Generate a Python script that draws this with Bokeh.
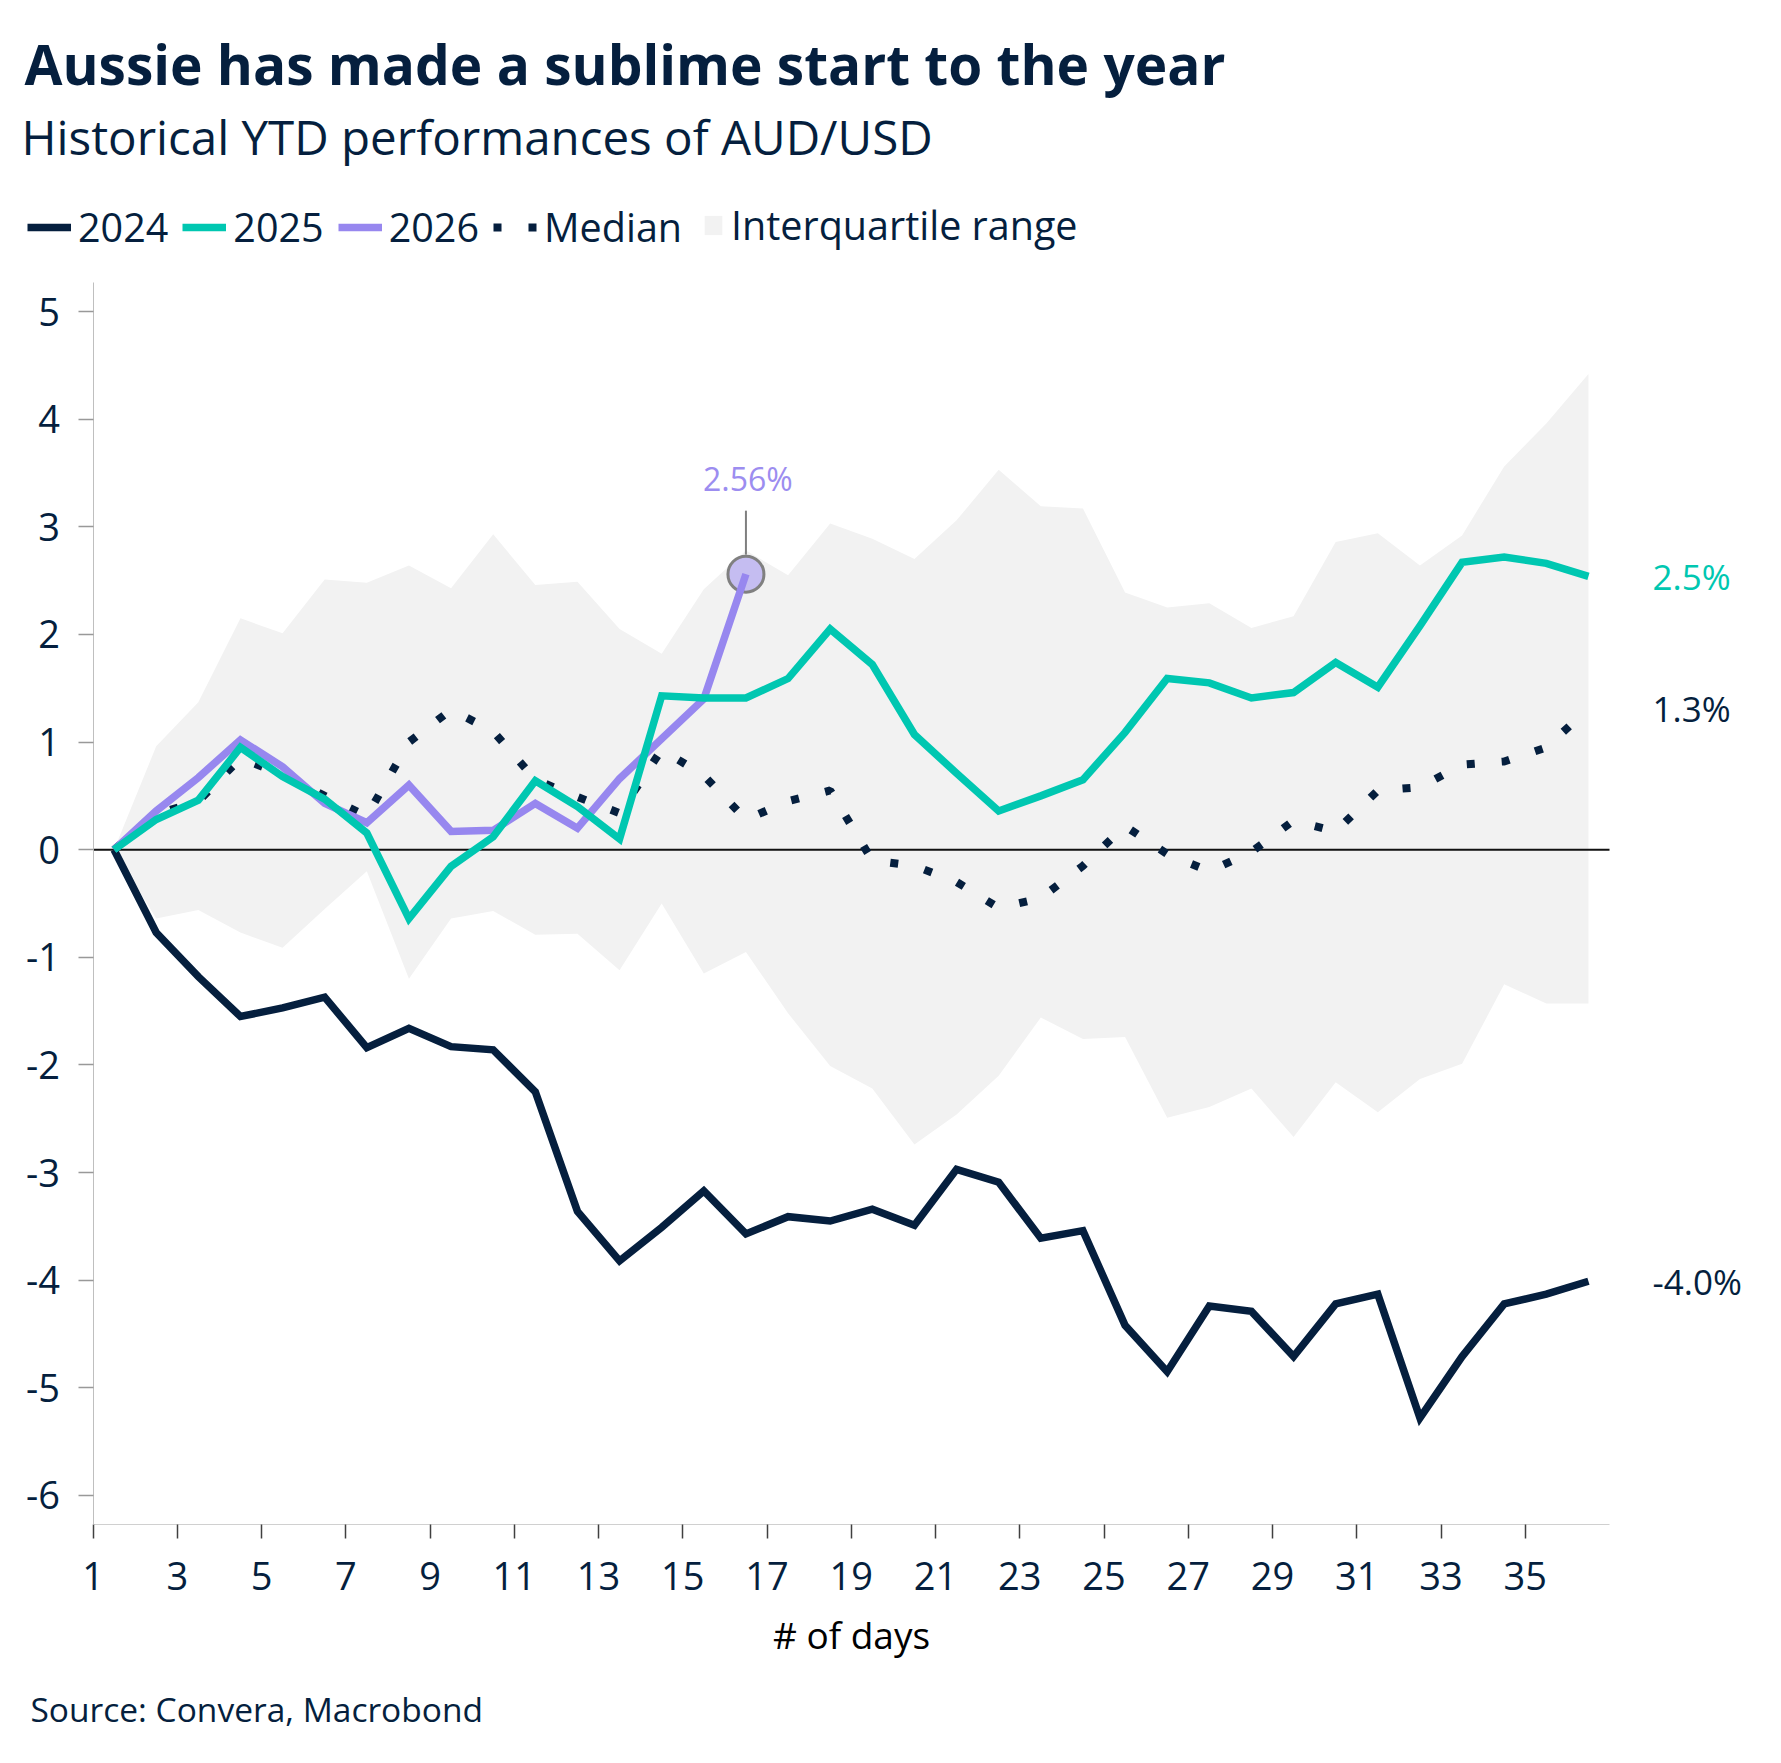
from bokeh.plotting import figure
from bokeh.models import Range1d, FixedTicker, Label, Legend, LegendItem, ColumnDataSource
from bokeh.embed import file_html
from bokeh.resources import INLINE

# ---- data: AUD/USD year-to-date performance (%) by trading day ----
days = list(range(1, 37))
y2024 = [0, -0.77, -1.18, -1.55, -1.47, -1.37, -1.84, -1.66, -1.83, -1.86, -2.25, -3.36,
         -3.82, -3.51, -3.17, -3.57, -3.41, -3.45, -3.34, -3.49, -2.97, -3.09, -3.61, -3.54,
         -4.42, -4.85, -4.24, -4.29, -4.71, -4.22, -4.13, -5.28, -4.71, -4.22, -4.13, -4.01]
y2025 = [0, 0.28, 0.46, 0.95, 0.68, 0.47, 0.155, -0.64, -0.155, 0.12, 0.64, 0.40,
         0.10, 1.43, 1.41, 1.41, 1.59, 2.05, 1.72, 1.07, 0.71, 0.36, 0.50, 0.65,
         1.09, 1.59, 1.55, 1.41, 1.46, 1.74, 1.51, 2.08, 2.67, 2.72, 2.66, 2.54]
days_2026 = list(range(1, 17))
y2026 = [0, 0.36, 0.67, 1.02, 0.77, 0.43, 0.25, 0.60, 0.17, 0.18, 0.43, 0.20,
         0.66, 1.03, 1.40, 2.56]
median = [0, 0.33, 0.45, 0.85, 0.70, 0.50, 0.31, 1.00, 1.30, 1.10, 0.65, 0.49,
          0.34, 0.93, 0.69, 0.28, 0.45, 0.55, -0.10, -0.15, -0.30, -0.54, -0.45, -0.15,
          0.22, -0.04, -0.20, -0.02, 0.27, 0.17, 0.55, 0.58, 0.79, 0.82, 0.95, 1.31]
iqr_hi = [0, 0.96, 1.37, 2.15, 2.01, 2.51, 2.48, 2.64, 2.43, 2.93, 2.46, 2.49,
          2.05, 1.82, 2.42, 2.78, 2.55, 3.03, 2.89, 2.70, 3.06, 3.53, 3.19, 3.17,
          2.39, 2.25, 2.29, 2.06, 2.17, 2.86, 2.94, 2.64, 2.92, 3.56, 3.96, 4.42]
iqr_lo = [0, -0.64, -0.56, -0.77, -0.91, -0.55, -0.20, -1.20, -0.64, -0.57, -0.79, -0.78,
          -1.12, -0.50, -1.15, -0.95, -1.52, -2.01, -2.22, -2.74, -2.46, -2.10, -1.56, -1.76,
          -1.74, -2.49, -2.39, -2.22, -2.67, -2.16, -2.44, -2.13, -1.99, -1.25, -1.43, -1.43]
x_tick_days = list(range(1, 36, 2))
y_ticks = list(range(-6, 6))

# ---- styling ----
NAVY = "#051f3e"
TEAL = "#00c7b1"
PURPLE = "#9787ef"
BAND = "#f2f2f2"
FONT = "Open Sans"

W, H = 1781, 1763
# pixel box occupied by the axes; the drawing frame spans the whole canvas so that
# headings, legend and end labels can sit around the axes without being clipped
AX_L, AX_R, AX_T, AX_B = 92.5, 1609.0, 282.0, 1524.0
X_LO, X_HI = 0.5, 36.5
Y_LO, Y_HI = -6.27, 5.27
PXD = (AX_R - AX_L) / (X_HI - X_LO)
PXY = (AX_B - AX_T) / (Y_HI - Y_LO)
x_range = Range1d(X_LO - AX_L / PXD, X_HI + (W - AX_R) / PXD)
y_range = Range1d(Y_LO - (H - AX_B) / PXY, Y_HI + AX_T / PXY)

p = figure(width=W, height=H, output_backend="svg", toolbar_location=None,
           x_range=x_range, y_range=y_range,
           min_border_left=0, min_border_right=0, min_border_top=0, min_border_bottom=0)
p.outline_line_color = None
p.grid.visible = False
p.background_fill_color = "white"
p.border_fill_color = "white"

src = ColumnDataSource(dict(day=days, y2024=y2024, y2025=y2025, median=median,
                            lo=iqr_lo, hi=iqr_hi))
src26 = ColumnDataSource(dict(day=days_2026, y2026=y2026))

r_band = p.varea(x="day", y1="lo", y2="hi", source=src, fill_color=BAND)
p.segment(x0=[X_LO], y0=[0], x1=[X_HI], y1=[0], line_color="#111111", line_width=2)
r_med = p.line(x="day", y="median", source=src, line_color=NAVY, line_width=8,
               line_dash="8 27", line_cap="butt")
r24 = p.line(x="day", y="y2024", source=src, line_color=NAVY, line_width=7.5, line_join="miter")

# highlight on the latest 2026 reading
last_day, last_val = days_2026[-1], y2026[-1]
p.scatter(x=[last_day], y=[last_val], marker="circle", size=36, fill_color=PURPLE,
          fill_alpha=0.5, line_color="#808080", line_width=3)
p.segment(x0=[last_day], y0=[last_val + 19.5 / PXY],
          x1=[last_day], y1=[last_val + 63.5 / PXY],
          line_color="#7f7f7f", line_width=2)

r26 = p.line(x="day", y="y2026", source=src26, line_color=PURPLE, line_width=7.5, line_join="miter")
r25 = p.line(x="day", y="y2025", source=src, line_color=TEAL, line_width=7.5, line_join="miter")

p.add_layout(Label(x=last_day, y=last_val, x_offset=2, y_offset=96, text=f"{last_val:.2f}%",
                   text_align="center", text_baseline="middle", text_font=FONT,
                   text_font_size="32px", text_color="#9c8df0"))

# end-of-series labels
for series, color in ((y2025, TEAL), (median, NAVY), (y2024, NAVY)):
    p.add_layout(Label(x=days[-1], y=series[-1], x_offset=64, text=f"{series[-1]:.1f}%",
                       text_align="left", text_baseline="middle", text_font=FONT,
                       text_font_size="35px", text_color=color))

# axes, pinned to the edges of the data box
p.xaxis.fixed_location = Y_LO
p.xaxis.bounds = (X_LO, X_HI)
p.xaxis.ticker = FixedTicker(ticks=[d - 0.5 for d in x_tick_days])
p.xaxis.major_label_overrides = {d - 0.5: str(d) for d in x_tick_days}
p.xaxis.axis_line_color = "#d0d0d0"
p.xaxis.major_tick_line_color = "#404040"
p.xaxis.major_tick_line_width = 1.5
p.xaxis.major_tick_out = 14
p.xaxis.major_tick_in = 0
p.xaxis.minor_tick_line_color = None
p.xaxis.major_label_standoff = 23
p.xaxis.axis_label = "# of days"
p.xaxis.axis_label_standoff = 16
p.xaxis.axis_label_text_font = FONT
p.xaxis.axis_label_text_font_size = "37px"
p.xaxis.axis_label_text_font_style = "normal"
p.xaxis.axis_label_text_color = "#000000"

p.yaxis.fixed_location = X_LO
p.yaxis.bounds = (Y_LO, Y_HI)
p.yaxis.ticker = FixedTicker(ticks=y_ticks)
p.yaxis.major_label_overrides = {t: str(t) for t in y_ticks}
p.yaxis.axis_line_color = "#bfbfbf"
p.yaxis.major_tick_line_color = "#999999"
p.yaxis.major_tick_line_width = 1.5
p.yaxis.major_tick_out = 15
p.yaxis.major_tick_in = 0
p.yaxis.minor_tick_line_color = None
p.yaxis.major_label_standoff = 18

for ax in (p.xaxis, p.yaxis):
    ax.major_label_text_font = FONT
    ax.major_label_text_font_size = "38px"
    ax.major_label_text_color = NAVY

# legend (each row is about 54px tall once the 40px labels are measured)
leg_lines = Legend(items=[LegendItem(label="2024", renderers=[r24]),
                          LegendItem(label="2025", renderers=[r25]),
                          LegendItem(label="2026", renderers=[r26]),
                          LegendItem(label="Median", renderers=[r_med])],
                   orientation="horizontal", location=(27, H - 254),
                   glyph_width=44, glyph_height=40, label_height=40, label_standoff=7,
                   spacing=14, padding=0, margin=0)
leg_band = Legend(items=[LegendItem(label="Interquartile range", renderers=[r_band])],
                  orientation="horizontal", location=(702, H - 252),
                  glyph_width=22, glyph_height=24, label_height=24, label_standoff=7,
                  spacing=14, padding=0, margin=0)
for leg in (leg_lines, leg_band):
    leg.border_line_color = None
    leg.background_fill_alpha = 0
    leg.label_text_font = FONT
    leg.label_text_font_size = "39.5px"
    leg.label_text_color = NAVY
    p.add_layout(leg)

# headings and source note (screen pixels measured from the bottom-left corner)
def heading(text, x, top_gap, size, style="normal"):
    p.add_layout(Label(x=x, y=H - top_gap, x_units="screen", y_units="screen",
                       text=text, text_baseline="alphabetic", text_align="left",
                       text_font=FONT, text_font_size=size, text_font_style=style,
                       text_color=NAVY))

heading("Aussie has made a sublime start to the year", 24, 63, "55px", "bold")
heading("Historical YTD performances of AUD/USD", 21, 136, "47.5px")
heading("Source: Convera, Macrobond", 30, 1708, "33.5px")

open("out.html", "w").write(file_html(p, INLINE))
